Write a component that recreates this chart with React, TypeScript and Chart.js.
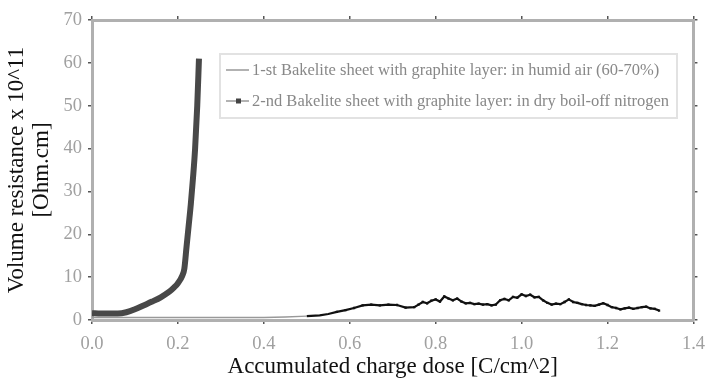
import React, { useEffect, useRef } from "react";
import { Chart, registerables } from "chart.js";

Chart.register(...registerables);

const xTicks = [0, 0.2, 0.4, 0.6, 0.8, 1.0, 1.2, 1.4];
const yTicks = [0, 10, 20, 30, 40, 50, 60, 70];

const legendLabels = [
  "1-st Bakelite sheet with graphite layer: in humid air (60-70%)",
  "2-nd Bakelite sheet with graphite layer: in dry boil-off nitrogen",
];

const dose1 = [0, 0.02, 0.04, 0.06, 0.08, 0.1, 0.12, 0.14, 0.16, 0.18, 0.19, 0.2, 0.21, 0.215, 0.22, 0.225, 0.23, 0.235, 0.24, 0.245, 0.249];
const res1 = [1.6, 1.5, 1.5, 1.5, 1.8, 2.5, 3.4, 4.3, 5.3, 6.6, 7.5, 8.6, 10.3, 12, 17, 22, 27, 33, 40, 50, 61];

const dose2 = [0, 0.05, 0.1, 0.15, 0.2, 0.25, 0.3, 0.35, 0.4, 0.45, 0.5, 0.53, 0.55, 0.57, 0.59, 0.61, 0.63, 0.65, 0.67, 0.69, 0.71, 0.73, 0.75, 0.76, 0.77, 0.78, 0.79, 0.8, 0.81, 0.82, 0.83, 0.84, 0.85, 0.86, 0.87, 0.88, 0.89, 0.9, 0.91, 0.92, 0.93, 0.94, 0.95, 0.96, 0.97, 0.98, 0.99, 1.0, 1.01, 1.02, 1.03, 1.04, 1.05, 1.06, 1.07, 1.08, 1.09, 1.1, 1.11, 1.12, 1.13, 1.14, 1.15, 1.16, 1.17, 1.18, 1.19, 1.2, 1.21, 1.22, 1.23, 1.24, 1.25, 1.26, 1.27, 1.28, 1.29, 1.3, 1.31, 1.32];
const res2 = [0.6, 0.6, 0.6, 0.6, 0.6, 0.6, 0.6, 0.6, 0.6, 0.7, 0.9, 1.1, 1.4, 1.9, 2.3, 2.8, 3.4, 3.6, 3.4, 3.6, 3.5, 2.9, 3.0, 3.6, 4.2, 3.9, 4.5, 4.8, 4.3, 5.5, 5.0, 4.6, 5.0, 4.3, 3.9, 4.0, 3.7, 3.8, 3.6, 3.7, 3.4, 3.6, 4.6, 4.9, 4.6, 5.4, 5.2, 6.0, 5.6, 5.9, 5.3, 5.4, 4.6, 4.0, 3.6, 3.8, 3.7, 4.2, 4.8, 4.2, 4.0, 3.7, 3.5, 3.4, 3.3, 3.6, 3.9, 3.5, 3.0, 2.8, 2.5, 2.7, 2.9, 2.6, 2.8, 3.0, 3.1, 2.7, 2.6, 2.2];

const SERIF = "'Liberation Serif', 'Times New Roman', serif";

const legendPlugin = {
  id: "boxLegend",
  afterDraw(chart: any) {
    const ctx = chart.ctx;
    ctx.save();
    const bx = 220, by = 54, bw = 457, bh = 64;
    ctx.fillStyle = "#fff";
    ctx.fillRect(bx, by, bw, bh);
    ctx.strokeStyle = "#e2e2e2";
    ctx.lineWidth = 2;
    ctx.strokeRect(bx, by, bw, bh);
    const rows = [70, 101];
    ctx.font = `16.5px ${SERIF}`;
    ctx.textBaseline = "middle";
    ctx.textAlign = "left";
    legendLabels.forEach((t, i) => {
      const y = rows[i];
      ctx.strokeStyle = "#999";
      ctx.lineWidth = 1.5;
      ctx.beginPath();
      ctx.moveTo(226, y);
      ctx.lineTo(249, y);
      ctx.stroke();
      if (i === 1) {
        ctx.fillStyle = "#444";
        ctx.fillRect(236, y - 2.5, 5, 5);
      }
      ctx.fillStyle = "#888";
      ctx.fillText(t, 252, y + 1);
    });
    ctx.restore();
  },
};

export default function App() {
  const ref = useRef<HTMLCanvasElement>(null);
  useEffect(() => {
    if (!ref.current) return;
    const d1 = dose1.map((x, i) => ({ x, y: res1[i] }));
    const d2 = dose2.map((x, i) => ({ x, y: res2[i] }));
    const tickFont = { family: SERIF, size: 18.5 };
    const chart = new Chart(ref.current, {
      type: "line",
      data: {
        datasets: [
          {
            label: legendLabels[0],
            data: d1,
            borderColor: "#484848",
            borderWidth: 6,
            pointRadius: 0,
            cubicInterpolationMode: "monotone",
            xAxisID: "x",
            yAxisID: "y",
          },
          {
            label: legendLabels[1],
            data: d2,
            borderColor: "#111",
            borderWidth: 2.2,
            pointStyle: "rect",
            pointRadius: (c: any) => (c.raw && c.raw.x > 0.55 ? 1.6 : 0),
            pointBackgroundColor: "#111",
            pointBorderColor: "#111",
            pointBorderWidth: 0,
            tension: 0,
            segment: {
              borderColor: (c: any) => (c.p0.parsed.x < 0.5 ? "#999" : "#111"),
              borderWidth: (c: any) => (c.p0.parsed.x < 0.5 ? 1.4 : 2.2),
            },
            xAxisID: "x",
            yAxisID: "y",
          },
        ],
      },
      options: {
        responsive: false,
        animation: false,
        layout: { padding: 0 },
        plugins: { legend: { display: false }, tooltip: { enabled: false } },
        scales: {
          x: {
            type: "linear",
            position: "bottom",
            min: 0,
            max: 1.4,
            afterBuildTicks: (s: any) => { s.ticks = xTicks.map((v) => ({ value: v })); },
            afterFit: (s: any) => { s.height = 58; },
            ticks: { font: tickFont, color: "#a0a0a0", padding: 9, callback: (v: any) => Number(v).toFixed(1), maxRotation: 0 },
            grid: { drawOnChartArea: false, drawTicks: true, tickLength: 4, color: "#555", lineWidth: 1.5 },
            border: { color: "#b0b0b0", width: 3 },
            title: { display: true, text: "Accumulated charge dose [C/cm^2]", color: "#111", font: { family: SERIF, size: 23, lineHeight: 1.0 }, padding: { top: 0, bottom: 0 } },
          },
          x2: {
            type: "linear",
            position: "top",
            min: 0,
            max: 1.4,
            afterBuildTicks: (s: any) => { s.ticks = xTicks.map((v) => ({ value: v })); },
            afterFit: (s: any) => { s.height = 20; },
            ticks: { display: false },
            grid: { drawOnChartArea: false, drawTicks: true, tickLength: 4, color: "#555", lineWidth: 1.5 },
            border: { color: "#b0b0b0", width: 3 },
          },
          y: {
            type: "linear",
            position: "left",
            min: 0,
            max: 70,
            afterBuildTicks: (s: any) => { s.ticks = yTicks.map((v) => ({ value: v })); },
            afterFit: (s: any) => { s.width = 92; },
            ticks: { font: tickFont, color: "#a0a0a0", padding: 6 },
            grid: { drawOnChartArea: false, drawTicks: true, tickLength: 4, color: "#555", lineWidth: 1.5 },
            border: { color: "#b0b0b0", width: 3 },
            title: { display: true, text: ["Volume resistance x 10^11", "[Ohm.cm]"], color: "#111", font: { family: SERIF, size: 23, lineHeight: 25 / 23 }, padding: { top: 4.5, bottom: 0 } },
          },
          y2: {
            type: "linear",
            position: "right",
            min: 0,
            max: 70,
            afterBuildTicks: (s: any) => { s.ticks = yTicks.map((v) => ({ value: v })); },
            afterFit: (s: any) => { s.width = 14; },
            ticks: { display: false },
            grid: { drawOnChartArea: false, drawTicks: true, tickLength: 4, color: "#555", lineWidth: 1.5 },
            border: { color: "#b0b0b0", width: 3 },
          },
        },
      },
      plugins: [legendPlugin],
    } as any);
    return () => chart.destroy();
  }, []);
  return (
    <div style={{ position: "fixed", left: 0, top: 0, width: 714, height: 378, background: "#fff" }}>
      <canvas ref={ref} width={714} height={378} style={{ display: "block" }} />
    </div>
  );
}
